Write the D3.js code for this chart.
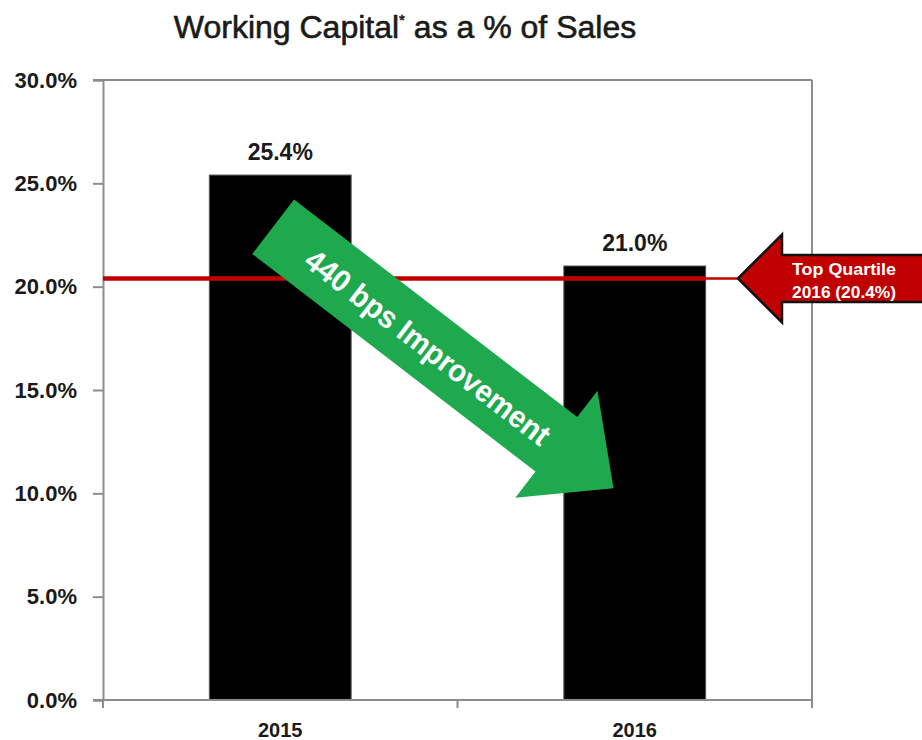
<!DOCTYPE html>
<html>
<head>
<meta charset="utf-8">
<script src="https://cdn.jsdelivr.net/npm/d3@7"></script>
<style>
  html, body { margin: 0; padding: 0; background: #fff; }
  svg { display: block; font-family: "Liberation Sans", Arial, sans-serif; }
</style>
</head>
<body>
<svg id="chart" width="922" height="740"></svg>
<script>
// ---- data ----
const categories = ["2015", "2016"];
const values = [0.254, 0.210];
const valueLabels = ["25.4%", "21.0%"];
const yTicks = [0, 0.05, 0.10, 0.15, 0.20, 0.25, 0.30];
const benchmark = 0.204;
const benchmarkLabel = ["Top Quartile", "2016 (20.4%)"];
const arrowText = "440 bps Improvement";
const titleMain = "Working Capital";
const titleSup = "*";
const titleRest = " as a % of Sales";

// ---- layout ----
const svg = d3.select("#chart");
const plotL = 103, plotR = 812, plotT = 80, plotB = 700;
const axisColor = "#8c8c8c";

const x = d3.scaleBand().domain(categories).range([plotL, plotR])
  .paddingInner(0.6).paddingOuter(0.3);
const y = d3.scaleLinear().domain([0, 0.30]).range([plotB, plotT]);

// title
const title = svg.append("text")
  .attr("x", 405).attr("y", 38)
  .attr("text-anchor", "middle")
  .attr("font-size", 32)
  .attr("fill", "#1a1a1a")
  .attr("stroke", "#1a1a1a").attr("stroke-width", 0.6);
title.append("tspan").text(titleMain);
title.append("tspan").attr("font-size", 15).attr("dy", -13).text(titleSup);
title.append("tspan").attr("dy", 13).text(titleRest);

// frame top & right
svg.append("line").attr("x1", 93).attr("x2", plotR).attr("y1", y(0.30)).attr("y2", y(0.30))
  .attr("stroke", axisColor).attr("stroke-width", 2);
svg.append("line").attr("x1", plotR).attr("x2", plotR).attr("y1", y(0.30)).attr("y2", plotB + 7)
  .attr("stroke", axisColor).attr("stroke-width", 2);

// bars
svg.append("g").selectAll("rect").data(values).join("rect")
  .attr("x", (d, i) => x(categories[i]))
  .attr("width", x.bandwidth())
  .attr("y", d => y(d))
  .attr("height", d => y(0) - y(d))
  .attr("fill", "#000")
  .attr("stroke", "#555").attr("stroke-width", 1);

// value labels
svg.append("g").selectAll("text").data(values).join("text")
  .attr("x", (d, i) => x(categories[i]) + x.bandwidth() / 2)
  .attr("y", d => y(d) - 15)
  .attr("text-anchor", "middle")
  .attr("font-size", 23).attr("font-weight", "bold").attr("fill", "#1a1a1a")
  .text((d, i) => valueLabels[i]);

// y axis
const yAxis = d3.axisLeft(y).tickValues(yTicks).tickFormat(d3.format(".1%"))
  .tickSize(10).tickPadding(16);
const gy = svg.append("g").attr("transform", `translate(${plotL},0)`).call(yAxis);
gy.select(".domain").attr("stroke", axisColor).attr("stroke-width", 2);
gy.selectAll(".tick line").attr("stroke", axisColor).attr("stroke-width", 2);
gy.selectAll(".tick text").attr("font-size", 22).attr("font-weight", "bold")
  .attr("fill", "#1a1a1a").attr("font-family", "Liberation Sans, Arial, sans-serif");

// x axis (line + boundary ticks)
svg.append("line").attr("x1", 93).attr("x2", plotR).attr("y1", plotB).attr("y2", plotB)
  .attr("stroke", axisColor).attr("stroke-width", 2);
const bounds = [plotL, plotL + (plotR - plotL) / 2, plotR];
svg.append("g").selectAll("line").data(bounds).join("line")
  .attr("x1", d => d).attr("x2", d => d).attr("y1", plotB).attr("y2", plotB + 8)
  .attr("stroke", axisColor).attr("stroke-width", 2);
svg.append("g").selectAll("text").data(categories).join("text")
  .attr("x", d => x(d) + x.bandwidth() / 2)
  .attr("y", 737)
  .attr("text-anchor", "middle")
  .attr("font-size", 20).attr("font-weight", "bold").attr("fill", "#1a1a1a")
  .text(d => d);

// benchmark line
const yb = y(benchmark);
const bar2Right = x(categories[1]) + x.bandwidth();
svg.append("line").attr("x1", plotL).attr("x2", bar2Right).attr("y1", yb).attr("y2", yb)
  .attr("stroke", "#c00000").attr("stroke-width", 4.5);
const tipX = 738;
svg.append("line").attr("x1", bar2Right).attr("x2", tipX).attr("y1", yb).attr("y2", yb)
  .attr("stroke", "#c00000").attr("stroke-width", 2.5);

// red callout arrow
const headX = 782, shaftHalf = 23.5, headHalf = 44;
const redPts = [
  [tipX, yb], [headX, yb - headHalf], [headX, yb - shaftHalf], [930, yb - shaftHalf],
  [930, yb + shaftHalf], [headX, yb + shaftHalf], [headX, yb + headHalf]
];
svg.append("path").attr("d", d3.line()(redPts) + "Z")
  .attr("fill", "#c00000").attr("stroke", "#111").attr("stroke-width", 2.5)
  .attr("stroke-linejoin", "miter");
const redText = svg.append("text").attr("font-size", 17).attr("font-weight", "bold")
  .attr("fill", "#fff").attr("text-anchor", "middle");
benchmarkLabel.forEach((t, i) => {
  redText.append("tspan").attr("x", 844).attr("y", 275 + i * 22.5)
    .attr("textLength", 104).attr("lengthAdjust", "spacingAndGlyphs").text(t);
});

// green improvement arrow (from 2015 bar toward 2016 bar)
const sx = x(categories[0]) + x.bandwidth() * 0.45, sy = y(0.229);
const ex = x(categories[1]) + x.bandwidth() * 0.35, ey = y(0.1025);
const len = Math.hypot(ex - sx, ey - sy);
const ang = Math.atan2(ey - sy, ex - sx) * 180 / Math.PI;
const headLen = 72, sHalf = 34.3, hHalf = 67.4;
const gPts = [
  [0, -sHalf], [len - headLen, -sHalf], [len - headLen, -hHalf], [len, 0],
  [len - headLen, hHalf], [len - headLen, sHalf], [0, sHalf]
];
const gArrow = svg.append("g").attr("transform", `translate(${sx},${sy}) rotate(${ang})`);
gArrow.append("path").attr("d", d3.line()(gPts) + "Z").attr("fill", "#1ea94f");
gArrow.append("text")
  .attr("x", 196).attr("y", 4)
  .attr("text-anchor", "middle").attr("dominant-baseline", "middle")
  .attr("font-size", 31).attr("font-weight", "bold").attr("fill", "#fff")
  .attr("textLength", 300).attr("lengthAdjust", "spacingAndGlyphs")
  .text(arrowText);
</script>
</body>
</html>
